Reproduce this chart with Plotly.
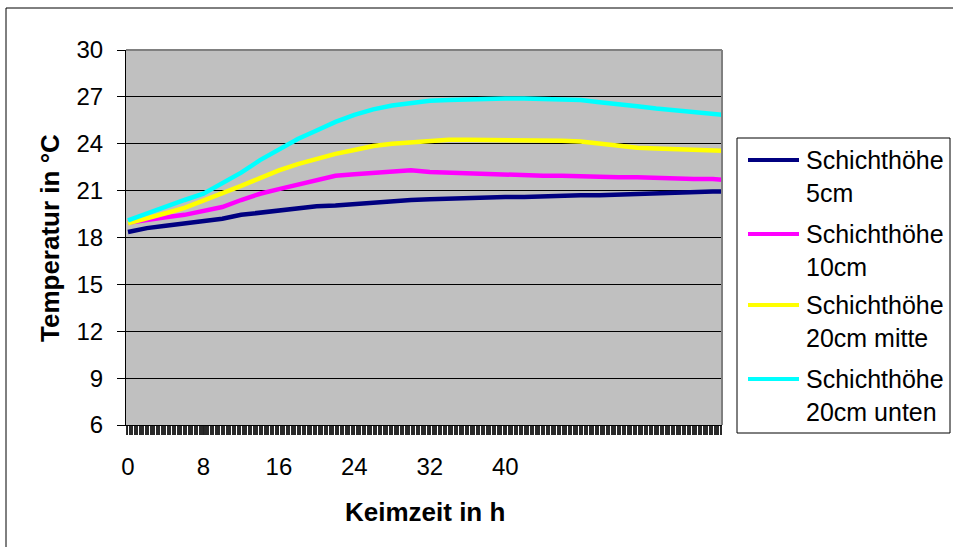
import plotly.graph_objects as go

# ---- data ----
hours = [0, 2, 4, 6, 8, 10, 12, 14, 16, 18, 20, 22, 24, 26, 28, 30, 32, 34, 36, 38,
         40, 42, 44, 46, 48, 50, 52, 54, 56, 58, 60, 62, 63]

temp_5cm = [18.35, 18.6, 18.75, 18.9, 19.0, 19.2, 19.45, 19.6, 19.75, 19.9, 20.0, 20.05,
            20.15, 20.25, 20.35, 20.4, 20.45, 20.5, 20.55, 20.55, 20.6, 20.6, 20.65, 20.65,
            20.7, 20.7, 20.75, 20.8, 20.85, 20.9, 20.9, 20.95, 20.95]
temp_10cm = [18.95, 19.15, 19.3, 19.45, 19.7, 19.95, 20.4, 20.8, 21.1, 21.4, 21.65, 21.95,
             22.05, 22.15, 22.25, 22.3, 22.2, 22.15, 22.1, 22.05, 22.05, 22.0, 21.95, 21.95,
             21.9, 21.85, 21.85, 21.85, 21.8, 21.8, 21.75, 21.75, 21.7]
temp_20cm_mitte = [18.9, 19.2, 19.55, 19.9, 20.35, 20.8, 21.3, 21.8, 22.3, 22.7, 23.05, 23.35,
                   23.6, 23.85, 24.0, 24.1, 24.2, 24.25, 24.25, 24.25, 24.25, 24.25, 24.25, 24.2,
                   24.15, 24.0, 23.85, 23.75, 23.7, 23.65, 23.6, 23.55, 23.55]
temp_20cm_unten = [19.1, 19.55, 19.95, 20.4, 20.8, 21.45, 22.15, 22.95, 23.65, 24.3, 24.85, 25.4,
                   25.85, 26.2, 26.45, 26.6, 26.75, 26.8, 26.85, 26.9, 26.9, 26.9, 26.85, 26.85,
                   26.8, 26.65, 26.55, 26.4, 26.25, 26.15, 26.05, 25.9, 25.85]

series_names = [["Schichthöhe", "5cm"], ["Schichthöhe", "10cm"],
                ["Schichthöhe", "20cm mitte"], ["Schichthöhe", "20cm unten"]]
series_vals = [temp_5cm, temp_10cm, temp_20cm_mitte, temp_20cm_unten]
colors = ["#000080", "#FF00FF", "#FFFF00", "#00FFFF"]

x_ticks = [0, 8, 16, 24, 32, 40]
y_ticks = [6, 9, 12, 15, 18, 21, 24, 27, 30]

FONT = "Liberation Sans, Arial, sans-serif"

# plot area in pixels
W, H = 953, 547
L, R, T, B = 126, 722, 50, 425

def px(x):
    return (x - L) / (R - L)

def py(y):
    return (B - y) / (B - T)

fig = go.Figure()
for name, vals, col in zip(series_names, series_vals, colors):
    fig.add_trace(go.Scatter(x=hours, y=vals, mode="lines", name=" ".join(name),
                             line=dict(color=col, width=4.5), showlegend=False))

fig.update_layout(
    width=W, height=H,
    margin=dict(l=L, r=W - R, t=T, b=H - B, pad=0),
    paper_bgcolor="white", plot_bgcolor="#C0C0C0",
    font=dict(family=FONT, color="black"),
    showlegend=False,
)
fig.update_xaxes(
    range=[-0.21, 62.98], tickmode="array", tickvals=x_ticks,
    ticktext=[str(v) for v in x_ticks],
    ticks="outside", ticklen=9, tickcolor="#222222", tickwidth=1,
    tickfont=dict(size=24, family=FONT), ticklabelstandoff=11,
    showline=True, linecolor="black", linewidth=1, showgrid=False, zeroline=False,
    minor=dict(tickmode="linear", tick0=0, dtick=0.13, ticks="outside", ticklen=9,
               tickcolor="#2a2a2a", tickwidth=1, showgrid=False),
)
fig.update_yaxes(
    range=[6, 30], tickmode="array", tickvals=y_ticks,
    ticks="outside", ticklen=8, tickcolor="black", tickwidth=1,
    tickfont=dict(size=24, family=FONT), ticklabelstandoff=9,
    showline=True, linecolor="black", linewidth=1,
    showgrid=True, gridcolor="black", gridwidth=1, zeroline=False,
)

shapes = []
# plot-area border (top & right in gray)
shapes.append(dict(type="line", xref="paper", yref="paper", x0=0, x1=1, y0=1, y1=1,
                   line=dict(color="#808080", width=2), layer="above"))
shapes.append(dict(type="line", xref="paper", yref="paper", x0=1, x1=1, y0=0, y1=1,
                   line=dict(color="#808080", width=2), layer="above"))
# outer chart border
shapes.append(dict(type="rect", xref="paper", yref="paper",
                   x0=px(6), x1=px(W + 10), y0=py(H + 10), y1=py(8),
                   line=dict(color="black", width=1), fillcolor="rgba(0,0,0,0)", layer="below"))
# legend box
shapes.append(dict(type="rect", xref="paper", yref="paper",
                   x0=px(737), x1=px(950), y0=py(433), y1=py(138),
                   line=dict(color="black", width=1), fillcolor="white", layer="above"))

annotations = []
row_y = [160, 234, 305, 379]
for (l1, l2), col, yy in zip(series_names, colors, row_y):
    shapes.append(dict(type="line", xref="paper", yref="paper",
                       x0=px(748), x1=px(799), y0=py(yy), y1=py(yy),
                       line=dict(color=col, width=4), layer="above"))
    annotations.append(dict(xref="paper", yref="paper", x=px(804), y=py(yy), text=l1,
                            showarrow=False, xanchor="left", yanchor="middle",
                            font=dict(size=25, family=FONT, color="black")))
    annotations.append(dict(xref="paper", yref="paper", x=px(804), y=py(yy + 33), text=l2,
                            showarrow=False, xanchor="left", yanchor="middle",
                            font=dict(size=25, family=FONT, color="black")))

# axis titles
annotations.append(dict(xref="paper", yref="paper", x=px(425), y=py(512),
                        text="<b>Keimzeit in h</b>", showarrow=False,
                        xanchor="center", yanchor="middle",
                        font=dict(size=26, family=FONT, color="black")))
annotations.append(dict(xref="paper", yref="paper", x=px(50), y=py(238),
                        text="<b>Temperatur in °C</b>", showarrow=False, textangle=-90,
                        xanchor="center", yanchor="middle",
                        font=dict(size=26, family=FONT, color="black")))

fig.update_layout(shapes=shapes, annotations=annotations)
fig.write_html("out.html")
